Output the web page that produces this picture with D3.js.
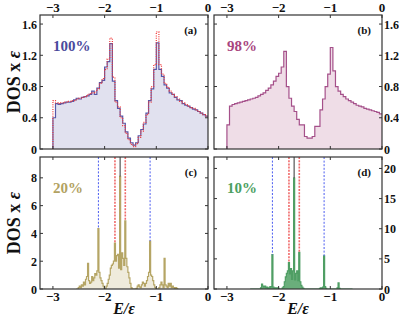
<!DOCTYPE html>
<html>
<head>
<meta charset="utf-8">
<script src="https://cdn.jsdelivr.net/npm/d3@7"></script>
<style>
  body { margin: 0; background: #fff; }
  svg text { font-family: "Liberation Serif", "DejaVu Serif", serif; font-weight: bold; }
</style>
</head>
<body>
<div id="chart"></div>
<script>
// DOS histograms at four concentrations

// panels (a) and (b): bins of 0.05 starting at -3
const binStartAB = -3.0;
const binWidthAB = 0.05;

const dos100 = [0.40,0.58,0.57,0.58,0.59,0.60,0.60,0.61,0.63,0.65,
                0.64,0.66,0.67,0.68,0.70,0.74,0.70,0.78,0.85,0.88,
                1.05,1.12,1.35,0.87,0.62,0.52,0.42,0.33,0.22,0.14,
                0.08,0.05,0.08,0.17,0.25,0.32,0.46,0.62,0.77,1.02,
                1.36,1.02,0.93,0.82,0.78,0.72,0.70,0.66,0.63,0.62,
                0.58,0.56,0.55,0.53,0.51,0.50,0.48,0.46,0.44,0.42];

const dosExact = [0.62,0.59,0.58,0.59,0.60,0.60,0.61,0.62,0.62,0.64,
                  0.65,0.66,0.67,0.69,0.71,0.72,0.73,0.77,0.84,0.90,
                  1.02,1.15,1.42,0.92,0.60,0.54,0.40,0.30,0.20,0.12,
                  0.06,0.03,0.07,0.15,0.23,0.34,0.44,0.60,0.80,1.08,
                  1.50,1.08,0.96,0.84,0.79,0.74,0.70,0.67,0.64,0.61,
                  0.59,0.57,0.55,0.53,0.52,0.50,0.48,0.46,0.44,0.42];

const dos98 = [0.31,0.55,0.57,0.58,0.59,0.60,0.61,0.62,0.63,0.64,
               0.65,0.66,0.68,0.70,0.72,0.75,0.78,0.82,0.87,0.93,
               0.97,1.05,1.25,0.80,0.65,0.55,0.48,0.38,0.31,0.31,
               0.16,0.14,0.14,0.16,0.29,0.29,0.50,0.64,0.80,0.96,
               1.30,1.00,0.80,0.74,0.70,0.67,0.64,0.62,0.60,0.58,
               0.56,0.55,0.54,0.52,0.51,0.50,0.49,0.48,0.47,0.45];

// panels (c) and (d): bins of 0.02 starting at -2.55
const binStartCD = -2.55;
const binWidthCD = 0.02;

const dos20 = [0,0,0.1,0.2,0.1,0.3,0.2,0.5,0.3,0.7,
               0.9,1.85,0.6,0.4,0.5,0.9,0.6,0.8,1.1,1.0,
               1.3,4.35,1.2,0.8,0.6,0.4,0.2,0.05,0,0.2,
               0.4,0.7,1.0,1.5,1.7,1.8,2.0,3.3,2.0,2.4,
               2.5,1.5,8.1,1.4,2.6,2.2,1.7,4.9,2.2,1.6,
               1.2,0.8,0.4,0.1,0,0,0,0,0.05,0.2,
               0.3,0.15,0.1,0.3,0.5,0.4,0.2,0.4,0.6,0.9,
               1.2,3.45,1.0,0.9,0.6,0.3,0.1,0,0,0,
               0.1,0.3,0.5,0.3,0.1,2.2,0.3,0.2,0.1,0.4,
               0.2,0.4,0.1,0.2,0.1,0.05,0.1,0.05,0];

const dos10 = [0,0,0,0,0,0,0,0,0,0,
               0.2,0.8,0.5,0.3,0.5,0.2,0.3,0.1,0.2,0.4,
               0.3,5.7,0.3,0.1,0.2,0.1,0.2,0.1,0,0,
               0,0.2,0.4,1.2,2.0,2.6,3.0,4.4,2.5,3.4,
               1.6,3.0,18.4,1.5,2.6,3.0,1.4,6.1,1.2,0.6,
               0.3,0.1,0,0,0,0,0,0,0,0,
               0,0,0,0,0,0,0,0.1,0.2,0.1,
               0.3,5.5,0.4,0.1,0,0,0,0,0,0,
               0,0,0,0,0.2,1.0,0.1,0,0,0,
               0,0,0,0,0,0,0,0,0];

// reference energies marked in (c) and (d)
const blueLines = [-2.12, -1.12];
const redLines = [-1.80, -1.60];
const blackLines = [-1.70];

const xTicks = [-3, -2, -1, 0];
const yTicksAB = [0, 0.4, 0.8, 1.2, 1.6];
const yTicksC = [0, 2, 4, 6, 8];
const yTicksD = [0, 5, 10, 15, 20];

const W = 399, H = 318;
const svg = d3.select("#chart").append("svg")
  .attr("width", W).attr("height", H);

const fmtMinus = d => (d < 0 ? "\u2212" + Math.abs(d) : String(d));

// turn bin values into step points
function steps(vals, start, w) {
  const pts = [[start, 0]];
  vals.forEach((v, i) => pts.push([start + i * w, v]));
  pts.push([start + vals.length * w, vals[vals.length - 1]]);
  return pts;
}

function panel(p) {
  const x = d3.scaleLinear().domain([-3.25, 0]).range([p.left, p.left + 168]);
  const y = d3.scaleLinear().domain([0, p.ymax]).range([p.top + p.h, p.top]);
  const g = svg.append("g");

  const clipId = "clip" + p.name;
  svg.append("clipPath").attr("id", clipId).append("rect")
    .attr("x", p.left).attr("y", p.top).attr("width", 168).attr("height", p.h);

  const area = d3.area().curve(d3.curveStepAfter)
    .x(d => x(d[0])).y0(y(0)).y1(d => y(d[1]));
  const line = d3.line().curve(d3.curveStepAfter)
    .x(d => x(d[0])).y(d => y(d[1]));

  const pts = steps(p.vals, p.start, p.bw);
  const body = g.append("g").attr("clip-path", `url(#${clipId})`);
  body.append("path").attr("d", area(pts)).attr("fill", p.fill).attr("stroke", "none");
  body.append("path").attr("d", line(pts)).attr("fill", "none")
    .attr("stroke", p.stroke).attr("stroke-width", 1.2);

  if (p.extra) {
    body.append("path").attr("d", line(steps(p.extra, p.start, p.bw))).attr("fill", "none")
      .attr("stroke", "#f03a3a").attr("stroke-width", 1.2).attr("stroke-dasharray", "1,1.3");
  }

  if (p.marks) {
    const valAt = e => p.vals[Math.floor((e - p.start) / p.bw)];
    const drawMarks = (list, color, dash, sw) => {
      body.selectAll(null).data(list).enter().append("line")
        .attr("x1", d => x(d)).attr("x2", d => x(d))
        .attr("y1", p.top).attr("y2", d => y(valAt(d)))
        .attr("stroke", color).attr("stroke-width", sw)
        .attr("stroke-dasharray", dash);
    };
    drawMarks(blueLines, "#4a5cf0", "2,1.6", 1);
    drawMarks(redLines, "#f06a6a", "2,1.2", 1.6);
    drawMarks(blackLines, "#333", null, 1);
  }

  // frame
  g.append("rect").attr("x", p.left).attr("y", p.top).attr("width", 168).attr("height", p.h)
    .attr("fill", "none").attr("stroke", "#333").attr("stroke-width", 1.2);

  // inward ticks on all four sides
  const tl = 3;
  xTicks.forEach(t => {
    g.append("line").attr("x1", x(t)).attr("x2", x(t)).attr("y1", p.top + p.h).attr("y2", p.top + p.h - tl)
      .attr("stroke", "#333");
    g.append("line").attr("x1", x(t)).attr("x2", x(t)).attr("y1", p.top).attr("y2", p.top + tl)
      .attr("stroke", "#333");
  });
  p.yTicks.forEach(t => {
    g.append("line").attr("x1", p.left).attr("x2", p.left + tl).attr("y1", y(t)).attr("y2", y(t))
      .attr("stroke", "#333");
    g.append("line").attr("x1", p.left + 168).attr("x2", p.left + 168 - tl).attr("y1", y(t)).attr("y2", y(t))
      .attr("stroke", "#333");
  });

  // tick labels
  const xl = g.selectAll(null).data(xTicks).enter().append("text")
    .attr("x", d => x(d)).attr("text-anchor", "middle")
    .attr("font-size", 13).attr("fill", "#111").text(fmtMinus);
  if (p.xTop) xl.attr("y", p.top - 3);
  else xl.attr("y", p.top + p.h + 12);

  g.selectAll(null).data(p.yTicks).enter().append("text")
    .attr("x", p.yRight ? p.left + 170 : p.left - 3)
    .attr("y", d => y(d) + 4.5)
    .attr("text-anchor", p.yRight ? "start" : "end")
    .attr("font-size", 12).attr("fill", "#111").text(d => String(d));

  // labels inside
  g.append("text").attr("x", p.left + 13).attr("y", p.top + 36)
    .attr("font-size", 15).attr("fill", p.labelColor).text(p.label);
  g.append("text").attr("x", p.left + 157).attr("y", p.top + 19).attr("text-anchor", "end")
    .attr("font-size", 11).attr("fill", "#111").text(p.tag);

  return x;
}

panel({name: "a", left: 40, top: 15, h: 134, ymax: 1.716, yTicks: yTicksAB,
  vals: dos100, extra: dosExact, start: binStartAB, bw: binWidthAB,
  fill: "#e1e1ef", stroke: "#5858a8", xTop: true, yRight: false,
  label: "100%", labelColor: "#4b4a9c", tag: "(a)"});

panel({name: "b", left: 214, top: 15, h: 134, ymax: 1.716, yTicks: yTicksAB,
  vals: dos98, start: binStartAB, bw: binWidthAB,
  fill: "#efdde7", stroke: "#a5508a", xTop: true, yRight: true,
  label: "98%", labelColor: "#a8457e", tag: "(b)"});

panel({name: "c", left: 40, top: 157, h: 132, ymax: 9.5, yTicks: yTicksC,
  vals: dos20, start: binStartCD, bw: binWidthCD, marks: true,
  fill: "#efebdc", stroke: "#b5a565", xTop: false, yRight: false,
  label: "20%", labelColor: "#b2a262", tag: "(c)"});

panel({name: "d", left: 214, top: 157, h: 132, ymax: 21.9, yTicks: yTicksD,
  vals: dos10, start: binStartCD, bw: binWidthCD, marks: true,
  fill: "#6aae7b", stroke: "#4f9e64", xTop: false, yRight: true,
  label: "10%", labelColor: "#4ca062", tag: "(d)"});

// axis titles
[82, 223].forEach(cy => {
  const t = svg.append("text").attr("transform", `translate(20,${cy}) rotate(-90)`)
    .attr("text-anchor", "middle").attr("font-size", 18).attr("fill", "#111");
  t.append("tspan").text("DOS x ");
  t.append("tspan").attr("font-style", "italic").text("\u03b5");
});
[124, 298].forEach(cx => {
  svg.append("text").attr("x", cx).attr("y", 314).attr("text-anchor", "middle")
    .attr("font-size", 16).attr("font-style", "italic").attr("fill", "#111").text("E/\u03b5");
});
</script>
</body>
</html>
